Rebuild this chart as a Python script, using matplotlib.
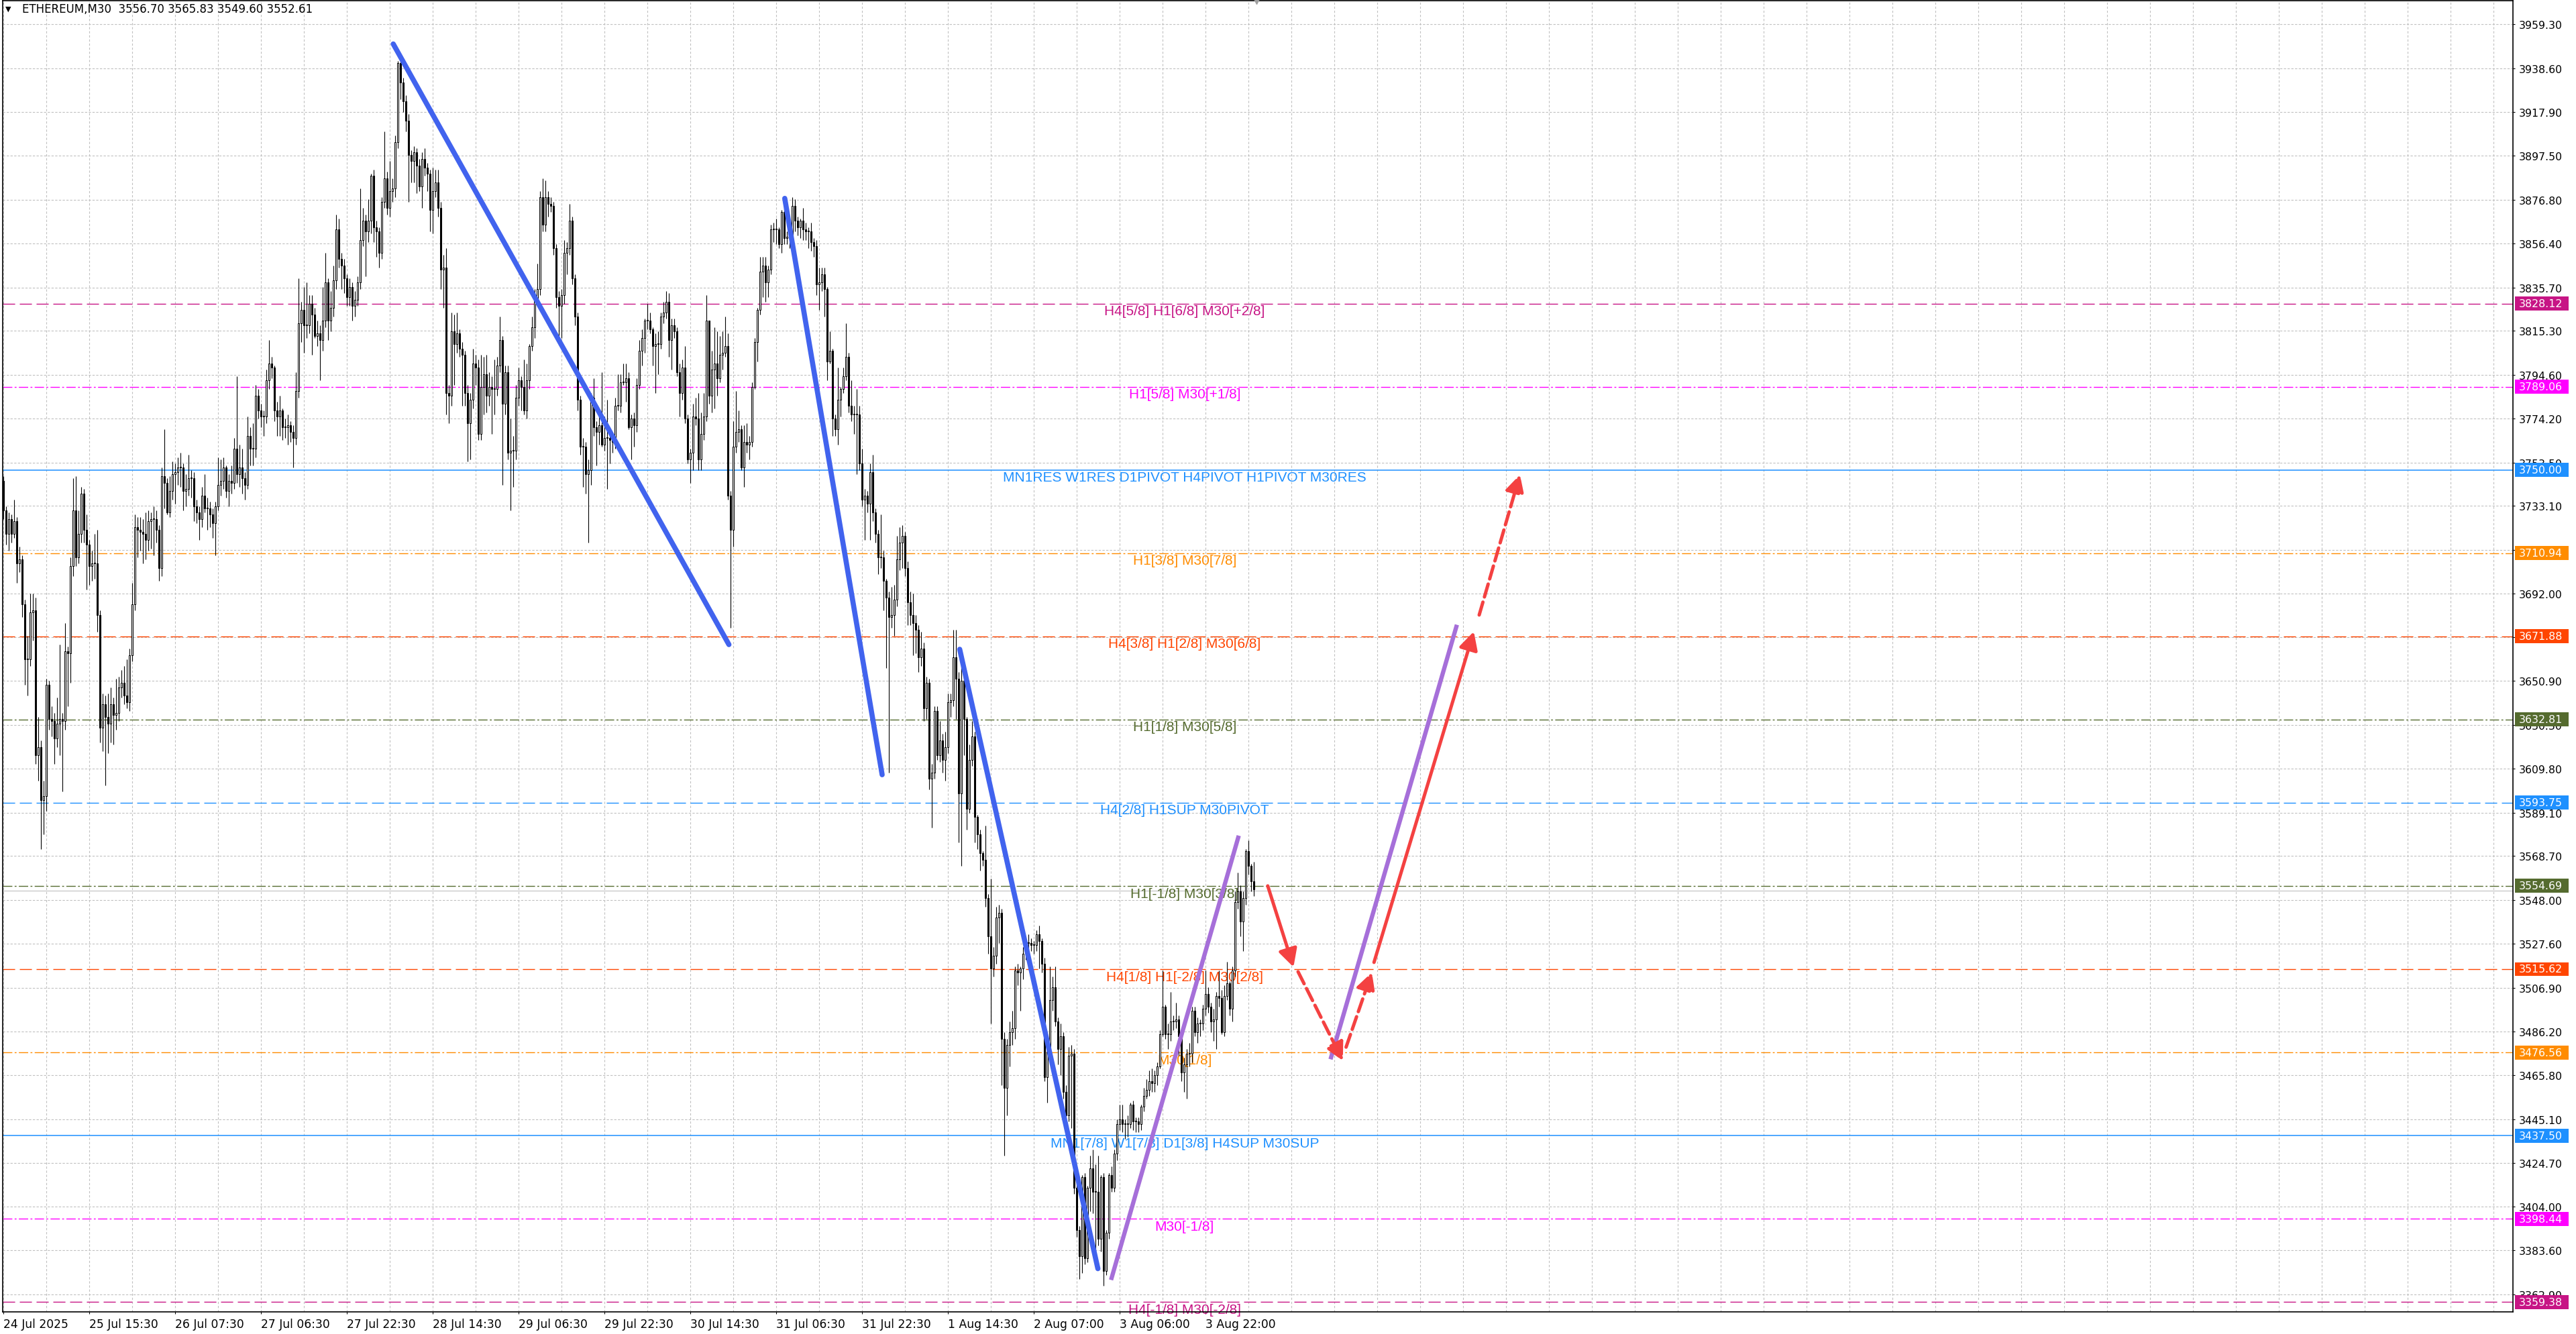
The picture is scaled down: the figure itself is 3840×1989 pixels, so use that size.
#!/usr/bin/env python3
"""ETHEREUM M30 candles with Murrey-style levels, trend lines and projection arrows."""

import matplotlib

matplotlib.use("Agg")
import matplotlib.pyplot as plt
import numpy as np
from matplotlib.patches import Rectangle
from matplotlib.transforms import blended_transform_factory

# --- candles (M30) ----------------------------------------------------------
first_open = 3745
closes = [
    # 0
    3731, 3720, 3727, 3720, 3726, 3706, 3708, 3687, 3661, 3661,
    3683, 3684, 3616, 3620, 3595, 3597, 3649, 3633, 3632, 3624,
    3631, 3633, 3632, 3665, 3664, 3705, 3731, 3709, 3720, 3739,
    3722, 3715, 3705, 3706, 3706, 3682, 3629, 3640, 3634, 3631,
    3640, 3635, 3636, 3648, 3650, 3644, 3641, 3663, 3687, 3723,
    3722, 3721, 3720, 3717, 3726, 3727, 3727, 3722, 3704, 3747,
    3744, 3730, 3740, 3748, 3749, 3751, 3751, 3740, 3741, 3746,
    3746, 3733, 3730, 3727, 3738, 3732, 3732, 3729, 3725, 3733,
    3743, 3745, 3751, 3740, 3745, 3744, 3760, 3748, 3751, 3746,
    3743, 3766, 3760, 3760, 3785, 3778, 3775, 3775, 3792, 3800,
    3798, 3778, 3775, 3778, 3770, 3770, 3771, 3768, 3765, 3787,
    3819, 3825, 3818, 3818, 3828, 3823, 3813, 3814, 3811,
    # 119
    3820, 3838, 3820, 3826, 3839, 3863, 3849, 3846, 3840, 3831,
    3836, 3827, 3830, 3838, 3858, 3867, 3862, 3867, 3888, 3864,
    3862, 3852, 3876, 3887, 3873, 3881, 3882, 3904, 3941, 3932,
    3923, 3914, 3898, 3895, 3899, 3893, 3883, 3896, 3892, 3889,
    3872, 3881, 3885, 3873, 3844, 3845, 3786, 3785, 3815, 3809,
    3814, 3807, 3804, 3786, 3772, 3783, 3800, 3798, 3767, 3789,
    3795, 3785, 3789, 3788, 3788, 3799, 3811, 3781, 3796, 3758,
    3759, 3759, 3784, 3792, 3789, 3778, 3792, 3808, 3817, 3830,
    3835, 3878, 3865, 3878, 3875, 3874, 3854, 3831, 3827, 3832,
    3852, 3854, 3867, 3840, 3822, 3783, 3761, 3761, 3748, 3750,
    3784, 3770, 3768, 3771, 3762, 3765, 3765, 3764, 3763, 3780,
    3780, 3791, 3791,
    # 232
    3793, 3770, 3774, 3771, 3790, 3806, 3812, 3820, 3820, 3816,
    3808, 3809, 3809, 3822, 3824, 3829, 3811, 3818, 3815, 3796,
    3786, 3798, 3774, 3755, 3758, 3775, 3774, 3755, 3767, 3775,
    3820, 3785, 3797, 3800, 3793, 3804, 3805, 3808, 3738, 3722,
    3761, 3768, 3769, 3751, 3763, 3762, 3763, 3789, 3810, 3825,
    3843, 3846, 3838, 3844, 3863, 3863, 3863, 3856, 3871, 3859,
    3859, 3860, 3874, 3867, 3864, 3867, 3863, 3862, 3862, 3857,
    3855, 3837, 3838, 3842, 3835, 3801, 3806, 3774, 3769, 3783,
    3788, 3794, 3803, 3780, 3776, 3776, 3776, 3753, 3736, 3738,
    3734, 3749, 3730, 3720, 3709, 3709, 3698, 3690, 3681, 3682,
    3689, 3708, 3716, 3719, 3704, 3688, 3682, 3678, 3675, 3662,
    3666, 3638,
    # 344
    3650, 3605, 3608, 3637, 3616, 3623, 3614, 3620, 3641, 3642,
    3662, 3652, 3598, 3651, 3633, 3591, 3614, 3625, 3587, 3579,
    3570, 3567, 3549, 3531, 3516, 3522, 3540, 3542, 3483, 3460,
    3480, 3486, 3488, 3515, 3514, 3516, 3523, 3528, 3528, 3527,
    3527, 3532, 3529, 3518, 3465, 3477, 3501, 3507, 3491, 3478,
    3484, 3458, 3447, 3475, 3476, 3413, 3393, 3381, 3418, 3380,
    3413, 3422, 3411, 3411, 3389, 3418, 3374, 3392, 3419, 3413,
    3429, 3443, 3445, 3443, 3443, 3443, 3452, 3444, 3444, 3443,
    3451, 3456, 3459, 3463, 3462, 3466, 3470, 3485, 3498, 3485,
    3485, 3491, 3491, 3492, 3484, 3467, 3471, 3476, 3476, 3496,
    3486, 3490, 3490, 3497, 3504, 3498, 3491, 3492, 3503, 3502,
    3486, 3503, 3509, 3497, 3515, 3547, 3552, 3538, 3549, 3571,
    3564, 3557, 3553,
]
highs = [
    # 0
    3747, 3733, 3730, 3729, 3736, 3728, 3714, 3710, 3689, 3672,
    3692, 3692, 3690, 3634, 3623, 3604, 3652, 3651, 3639, 3636,
    3643, 3668, 3636, 3678, 3667, 3709, 3746, 3747, 3731, 3742,
    3741, 3729, 3717, 3712, 3720, 3722, 3684, 3645, 3644, 3645,
    3648, 3643, 3652, 3653, 3656, 3658, 3661, 3666, 3697, 3729,
    3728, 3728, 3727, 3730, 3731, 3730, 3733, 3731, 3724, 3751,
    3769, 3746, 3747, 3754, 3753, 3756, 3758, 3753, 3748, 3757,
    3750, 3749, 3736, 3733, 3742, 3748, 3737, 3735, 3732, 3735,
    3756, 3755, 3756, 3752, 3748, 3752, 3765, 3794, 3762, 3760,
    3749, 3775, 3770, 3772, 3790, 3788, 3781, 3778, 3797, 3811,
    3803, 3799, 3782, 3785, 3779, 3774, 3776, 3773, 3771, 3796,
    3840, 3829, 3836, 3838, 3832, 3832, 3826, 3820, 3818,
    # 119
    3836, 3852, 3840, 3834, 3846, 3870, 3868, 3852, 3849, 3842,
    3840, 3838, 3834, 3841, 3882, 3873, 3870, 3877, 3889, 3891,
    3867, 3864, 3878, 3909, 3890, 3895, 3887, 3907, 3942, 3943,
    3934, 3926, 3917, 3900, 3902, 3901, 3896, 3899, 3901, 3894,
    3891, 3892, 3891, 3891, 3876, 3851, 3854, 3790, 3824, 3823,
    3824, 3816, 3810, 3806, 3790, 3786, 3807, 3804, 3802, 3804,
    3803, 3804, 3796, 3794, 3802, 3803, 3822, 3813, 3799, 3799,
    3774, 3766, 3790, 3798, 3794, 3802, 3800, 3809, 3822, 3835,
    3847, 3881, 3887, 3886, 3881, 3878, 3876, 3856, 3834, 3835,
    3858, 3857, 3875, 3869, 3842, 3824, 3785, 3765, 3763, 3755,
    3786, 3793, 3773, 3776, 3796, 3775, 3783, 3770, 3765, 3784,
    3795, 3795, 3800,
    # 232
    3800, 3796, 3776, 3777, 3793, 3811, 3816, 3821, 3828, 3824,
    3817, 3814, 3815, 3824, 3829, 3834, 3833, 3821, 3821, 3817,
    3800, 3802, 3808, 3776, 3760, 3781, 3784, 3786, 3777, 3786,
    3832, 3820, 3806, 3817, 3815, 3813, 3815, 3822, 3814, 3740,
    3773, 3787, 3778, 3771, 3771, 3772, 3766, 3791, 3812, 3826,
    3850, 3850, 3850, 3846, 3865, 3866, 3868, 3864, 3872, 3873,
    3862, 3862, 3878, 3877, 3869, 3868, 3873, 3866, 3864, 3866,
    3859, 3858, 3845, 3845, 3845, 3836, 3815, 3807, 3776, 3798,
    3789, 3798, 3819, 3805, 3792, 3780, 3788, 3780, 3760, 3741,
    3740, 3753, 3757, 3732, 3722, 3729, 3712, 3699, 3693, 3695,
    3696, 3719, 3723, 3724, 3721, 3707, 3693, 3692, 3682, 3677,
    3674, 3669,
    # 344
    3653, 3652, 3612, 3639, 3639, 3632, 3626, 3627, 3645, 3645,
    3675, 3675, 3655, 3658, 3653, 3634, 3621, 3632, 3627, 3588,
    3581, 3571, 3583, 3551, 3558, 3526, 3545, 3546, 3544, 3486,
    3483, 3491, 3496, 3517, 3518, 3517, 3526, 3530, 3532, 3530,
    3529, 3534, 3536, 3530, 3521, 3480, 3517, 3512, 3517, 3493,
    3490, 3486, 3461, 3479, 3480, 3478, 3415, 3395, 3419, 3420,
    3414, 3428, 3431, 3424, 3428, 3419, 3420, 3393, 3420, 3423,
    3431, 3445, 3452, 3452, 3445, 3447, 3453, 3454, 3446, 3446,
    3452, 3460, 3464, 3468, 3469, 3468, 3472, 3487, 3515, 3499,
    3490, 3505, 3494, 3500, 3494, 3486, 3474, 3478, 3481, 3498,
    3498, 3493, 3492, 3499, 3515, 3507, 3500, 3497, 3505, 3515,
    3506, 3508, 3519, 3510, 3517, 3552, 3561, 3555, 3552, 3572,
    3576, 3565, 3566,
]
lows = [
    # 0
    3727, 3715, 3712, 3716, 3718, 3697, 3702, 3681, 3649, 3644,
    3658, 3670, 3612, 3604, 3572, 3579, 3590, 3628, 3625, 3612,
    3620, 3616, 3599, 3628, 3639, 3650, 3700, 3705, 3706, 3716,
    3716, 3694, 3696, 3698, 3699, 3674, 3622, 3618, 3602, 3617,
    3622, 3621, 3628, 3632, 3643, 3640, 3638, 3637, 3660, 3684,
    3709, 3712, 3706, 3708, 3712, 3713, 3710, 3716, 3698, 3700,
    3732, 3729, 3728, 3736, 3734, 3743, 3742, 3731, 3733, 3738,
    3737, 3726, 3725, 3717, 3723, 3730, 3722, 3723, 3718, 3710,
    3731, 3738, 3741, 3737, 3733, 3739, 3741, 3744, 3742, 3739,
    3736, 3741, 3752, 3752, 3756, 3774, 3770, 3766, 3772, 3788,
    3793, 3773, 3766, 3766, 3764, 3765, 3762, 3763, 3751, 3762,
    3784, 3810, 3805, 3812, 3814, 3804, 3812, 3808, 3792,
    # 119
    3806, 3817, 3811, 3815, 3822, 3835, 3845, 3835, 3833, 3827,
    3827, 3820, 3822, 3827, 3835, 3855, 3841, 3857, 3861, 3857,
    3850, 3845, 3849, 3873, 3870, 3869, 3876, 3878, 3901, 3924,
    3918, 3909, 3876, 3885, 3885, 3880, 3881, 3873, 3888, 3881,
    3862, 3861, 3878, 3869, 3835, 3826, 3776, 3772, 3780, 3790,
    3805, 3803, 3780, 3780, 3754, 3755, 3779, 3790, 3764, 3764,
    3776, 3777, 3780, 3767, 3776, 3785, 3796, 3743, 3776, 3755,
    3731, 3742, 3755, 3780, 3778, 3776, 3774, 3788, 3806, 3812,
    3828, 3832, 3862, 3862, 3869, 3871, 3851, 3826, 3813, 3812,
    3828, 3842, 3851, 3837, 3818, 3778, 3757, 3742, 3739, 3716,
    3743, 3766, 3752, 3762, 3761, 3759, 3741, 3753, 3758, 3760,
    3778, 3777, 3790,
    # 232
    3782, 3769, 3755, 3761, 3768, 3788, 3799, 3805, 3816, 3814,
    3799, 3786, 3795, 3807, 3819, 3821, 3803, 3797, 3812, 3794,
    3775, 3783, 3772, 3753, 3744, 3750, 3771, 3750, 3750, 3764,
    3773, 3781, 3777, 3779, 3785, 3791, 3797, 3803, 3736, 3676,
    3714, 3758, 3763, 3750, 3742, 3758, 3755, 3761, 3788, 3801,
    3823, 3831, 3829, 3831, 3842, 3857, 3856, 3854, 3852, 3856,
    3856, 3854, 3858, 3862, 3860, 3859, 3858, 3858, 3854, 3853,
    3850, 3832, 3825, 3834, 3822, 3792, 3800, 3766, 3766, 3762,
    3775, 3786, 3792, 3777, 3773, 3767, 3748, 3750, 3733, 3717,
    3730, 3717, 3726, 3716, 3701, 3704, 3684, 3657, 3608, 3676,
    3672, 3686, 3703, 3704, 3700, 3677, 3677, 3663, 3664, 3655,
    3658, 3632,
    # 344
    3633, 3600, 3582, 3605, 3614, 3613, 3608, 3604, 3617, 3634,
    3639, 3633, 3575, 3564, 3616, 3581, 3589, 3611, 3575, 3572,
    3562, 3564, 3545, 3523, 3490, 3512, 3518, 3528, 3461, 3428,
    3447, 3470, 3480, 3483, 3508, 3496, 3511, 3520, 3524, 3524,
    3523, 3524, 3516, 3514, 3463, 3453, 3474, 3496, 3489, 3471,
    3466, 3455, 3444, 3444, 3441, 3410, 3390, 3370, 3373, 3377,
    3378, 3402, 3401, 3381, 3386, 3383, 3367, 3372, 3389, 3411,
    3411, 3426, 3440, 3439, 3436, 3437, 3441, 3440, 3439, 3439,
    3440, 3449, 3455, 3456, 3458, 3458, 3461, 3469, 3484, 3483,
    3478, 3482, 3487, 3488, 3475, 3463, 3458, 3455, 3470, 3472,
    3484, 3481, 3484, 3487, 3494, 3495, 3486, 3482, 3478, 3498,
    3485, 3484, 3501, 3494, 3491, 3512, 3544, 3531, 3524, 3546,
    3560, 3552, 3550,
]
last_bid = 3552.61
header = "ETHEREUM,M30  3556.70 3565.83 3549.60 3552.61"

# --- time axis ---------------------------------------------------------------
time_tick_bars = [0, 32, 64, 96, 128, 160, 192, 224, 256, 288, 320, 352, 384, 416, 448]
time_tick_labels = ["24 Jul 2025", "25 Jul 15:30", "26 Jul 07:30", "27 Jul 06:30",
                    "27 Jul 22:30", "28 Jul 14:30", "29 Jul 06:30", "29 Jul 22:30",
                    "30 Jul 14:30", "31 Jul 06:30", "31 Jul 22:30", "1 Aug 14:30",
                    "2 Aug 07:00", "3 Aug 06:00", "3 Aug 22:00"]

price_ticks = [3959.30, 3938.60, 3917.90, 3897.50, 3876.80, 3856.40, 3835.70, 3815.30,
               3794.60, 3774.20, 3753.50, 3733.10, 3712.40, 3692.00, 3671.50, 3650.90,
               3630.30, 3609.80, 3589.10, 3568.70, 3548.00, 3527.60, 3506.90, 3486.20,
               3465.80, 3445.10, 3424.70, 3404.00, 3383.60, 3362.90]

# --- horizontal levels -------------------------------------------------------
level_prices = [3828.12, 3789.06, 3750.00, 3710.94, 3671.88, 3632.81, 3593.75,
                3554.69, 3515.62, 3476.56, 3437.50, 3398.44, 3359.38]
level_labels = [
    "H4[5/8] H1[6/8] M30[+2/8]",
    "H1[5/8] M30[+1/8]",
    "MN1RES W1RES D1PIVOT H4PIVOT H1PIVOT M30RES",
    "H1[3/8] M30[7/8]",
    "H4[3/8] H1[2/8] M30[6/8]",
    "H1[1/8] M30[5/8]",
    "H4[2/8] H1SUP M30PIVOT",
    "H1[-1/8] M30[3/8]",
    "H4[1/8] H1[-2/8] M30[2/8]",
    "M30[1/8]",
    "MN1[7/8] W1[7/8] D1[3/8] H4SUP M30SUP",
    "M30[-1/8]",
    "H4[-1/8] M30[-2/8]",
]
level_colors = ["#C71585", "#FF00FF", "#1E90FF", "#FF8C00", "#FF4500", "#556B2F", "#1E90FF",
                "#556B2F", "#FF4500", "#FF8C00", "#1E90FF", "#FF00FF", "#C71585"]
level_kinds = ["dash", "dashdot", "solid", "dashdot", "dash", "dashdot", "dash",
               "dashdot", "dash", "dashdot", "solid", "dashdot", "dash"]

# --- drawn trend lines and projection arrows (bar index, price) ---------------
trend_blue = [((145.3, 3950.0), (270.4, 3668.0)),
              ((291.2, 3877.5), (327.5, 3606.9)),
              ((356.4, 3665.8), (407.9, 3375.0))]
trend_purple = [((412.8, 3369.7), (460.4, 3578.3)),
                ((494.6, 3473.3), (541.7, 3677.3))]
arrow_from = [(471.2, 3554.7), (482.5, 3514.4), (500.4, 3479.0), (510.8, 3518.8), (550.0, 3681.9)]
arrow_to = [(480.8, 3516.6), (499.2, 3472.6), (510.0, 3514.1), (548.0, 3674.1), (565.2, 3747.8)]
arrow_dashed = [False, True, True, False, True]

W, H = 3840, 1990
AX_L, AX_R, AX_T, AX_B = 4, 3746, 2, 1957
PX_PER_BAR = 4.0
Y_TOP, Y_BOT = 3970.32, 3354.71

BLUE = "#4163EE"
PURPLE = "#A66FD9"
RED = "#F44141"
GRID = "#C0C0C0"


def main() -> None:
    fig = plt.figure(figsize=(W / 100, H / 100), dpi=100)
    fig.patch.set_facecolor("white")
    ax = fig.add_axes([AX_L / W, (H - AX_B) / H, (AX_R - AX_L) / W, (AX_B - AX_T) / H])
    x_left = -1.0 / PX_PER_BAR
    x_right = x_left + (AX_R - AX_L) / PX_PER_BAR
    ax.set_xlim(x_left, x_right)
    ax.set_ylim(Y_BOT, Y_TOP)

    # grid
    for p in price_ticks:
        ax.axhline(p, color=GRID, lw=0.8, ls=(0, (3, 2)), zorder=0)
    for b in np.arange(0, x_right, 16):
        ax.axvline(b, color=GRID, lw=0.8, ls=(0, (3, 2.5)), zorder=0)

    # levels + their captions
    styles = {"dash": (0, (13, 5)), "dashdot": (0, (10, 2.5, 2, 2.5)), "solid": "-"}
    for p, lab, col, kind in zip(level_prices, level_labels, level_colors, level_kinds):
        ax.axhline(p, color=col, lw=1.1 if kind == "solid" else 1.0, ls=styles[kind], zorder=1)
        ax.text(440.2, p - 3.5, lab, color=col, ha="center", va="center",
                fontsize=15, family=["Liberation Sans", "DejaVu Sans"], zorder=2)
    ax.axhline(last_bid, color="#C0C0C0", lw=0.8, zorder=1)

    # candles
    c = np.array(closes, dtype=float)
    o = np.array([first_open] + closes[:-1], dtype=float)
    h = np.maximum(np.array(highs, dtype=float), np.maximum(o, c))
    lo = np.minimum(np.array(lows, dtype=float), np.minimum(o, c))
    x = np.arange(len(c))
    ax.vlines(x, lo, h, color="black", lw=0.8, zorder=3)
    up = c >= o
    bottom = np.minimum(o, c)
    height = np.maximum(np.abs(c - o), 0.35)
    ax.bar(x[up], height[up], bottom=bottom[up], width=0.62, color="white",
           edgecolor="black", linewidth=0.75, zorder=4)
    ax.bar(x[~up], height[~up], bottom=bottom[~up], width=0.62, color="black",
           edgecolor="black", linewidth=0.75, zorder=4)

    # trend lines
    for (x0, y0), (x1, y1) in trend_blue:
        ax.plot([x0, x1], [y0, y1], color=BLUE, lw=5.5, solid_capstyle="round", zorder=6)
    for (x0, y0), (x1, y1) in trend_purple:
        ax.plot([x0, x1], [y0, y1], color=PURPLE, lw=4.6, solid_capstyle="butt", zorder=6)

    for (x0, y0), (x1, y1), dashed in zip(arrow_from, arrow_to, arrow_dashed):
        ax.annotate("", xy=(x1, y1), xytext=(x0, y0), zorder=7,
                    arrowprops=dict(arrowstyle="-|>,head_length=0.8,head_width=0.42",
                                    mutation_scale=20, color=RED, lw=3.6,
                                    linestyle=(0, (4, 1.6)) if dashed else "-",
                                    shrinkA=0, shrinkB=0, capstyle="round"))

    # axes look
    for s in ax.spines.values():
        s.set_color("black")
        s.set_linewidth(1.2)
    ax.yaxis.tick_right()
    ax.set_yticks(price_ticks)
    ax.set_yticklabels([f"{p:.2f}" for p in price_ticks])
    ax.tick_params(axis="y", length=2.5, width=0.8, pad=4, labelsize=11.3, colors="black")
    ax.set_xticks(time_tick_bars)
    ax.set_xticklabels(time_tick_labels)
    ax.tick_params(axis="x", length=2.5, width=0.8, pad=4, labelsize=12.3, colors="black")
    for t in ax.get_xticklabels():
        t.set_ha("left")

    # price tags on the scale
    tag_tr = blended_transform_factory(fig.transFigure, ax.transData)
    for p, col in zip(level_prices, level_colors):
        ax.add_patch(Rectangle((3749 / W, p - 3.3), 80 / W, 6.6, transform=tag_tr,
                               facecolor=col, edgecolor="none", clip_on=False, zorder=20))
        ax.text(3755 / W, p, f"{p:.2f}", transform=tag_tr, color="white", fontsize=11.3,
                ha="left", va="center", clip_on=False, zorder=21)

    # header + chart-shift marker
    fig.text(8 / W, 1 - 14 / H, "\u25bc", fontsize=8, va="center", ha="left")
    fig.text(33 / W, 1 - 14 / H, header, fontsize=12, va="center", ha="left")
    ax.plot([len(c)], [Y_TOP], marker="v", ms=7, color="#A0A0A0", clip_on=False, zorder=8)

    fig.savefig("out.png", dpi=100, facecolor="white")
    plt.close(fig)
    print(len(closes), len(highs), len(lows))


if __name__ == "__main__":
    main()
